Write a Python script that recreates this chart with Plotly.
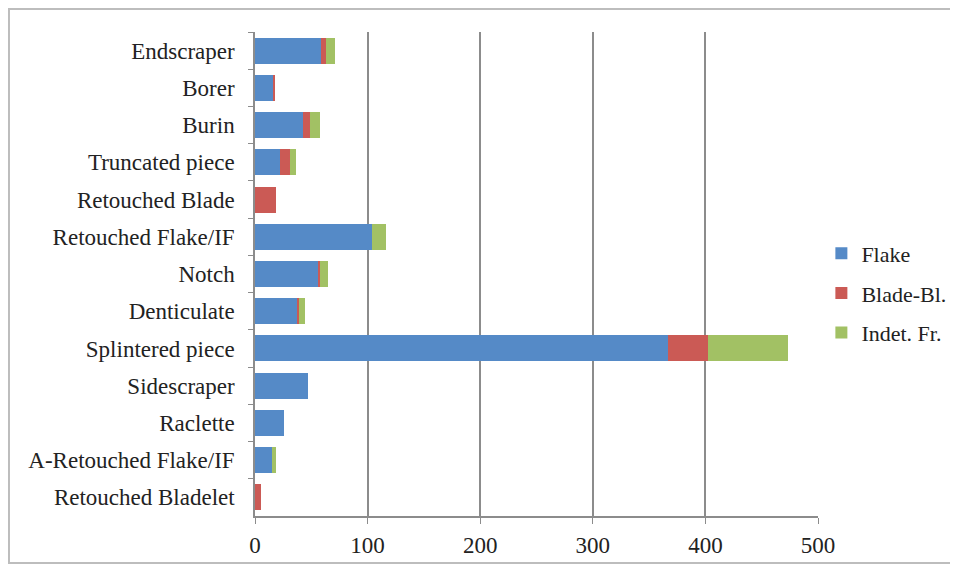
import plotly.graph_objects as go

categories = ["Endscraper", "Borer", "Burin", "Truncated piece", "Retouched Blade",
              "Retouched Flake/IF", "Notch", "Denticulate", "Splintered piece",
              "Sidescraper", "Raclette", "A-Retouched Flake/IF", "Retouched Bladelet"]
flake = [59, 16, 43, 22, 0, 104, 56, 38, 367, 47, 26, 15, 0]
blade_bl = [4, 1, 6, 9, 19, 0, 2, 1, 35, 0, 0, 0, 5]
indet_fr = [8, 0, 9, 5, 0, 12, 7, 5, 71, 0, 0, 4, 0]
x_ticks = [0, 100, 200, 300, 400, 500]

series = [("Flake", flake, "#558AC7"), ("Blade-Bl.", blade_bl, "#CB5A55"),
          ("Indet. Fr.", indet_fr, "#A2C164")]

fig = go.Figure()
for name, vals, col in series:
    fig.add_trace(go.Bar(y=categories, x=vals, name=name, orientation="h",
                         legendgroup=name,
                         marker=dict(color=col, line=dict(width=0))))

FAM = "Liberation Serif"
font = dict(family=FAM, size=23, color="#222")
fig.update_layout(
    width=950, height=561, barmode="stack", bargap=0.3,
    paper_bgcolor="white", plot_bgcolor="white", font=font,
    margin=dict(l=247, r=140, t=24, b=53, autoexpand=False),
    legend=dict(x=1.006, y=0.4607, xanchor="left", yanchor="middle",
                font=dict(family=FAM, size=22, color="#222"), traceorder="grouped",
                tracegroupgap=8, itemwidth=30, bgcolor="rgba(0,0,0,0)"),
    showlegend=True,
)
fig.update_xaxes(range=[0, 500], tickvals=x_ticks, showgrid=True, gridcolor="#8c8c8c",
                 gridwidth=1.5, showline=True, linecolor="#8c8c8c", linewidth=1.5,
                 ticks="outside", ticklen=6, tickcolor="#8c8c8c", zeroline=False,
                 ticklabelstandoff=2, automargin=False)
fig.update_yaxes(autorange="reversed", showline=True, linecolor="#8c8c8c", linewidth=1.5,
                 ticks="outside", ticklen=5, tickcolor="#8c8c8c", tickson="boundaries",
                 showgrid=False, ticklabelstandoff=14, automargin=False)

fig.add_shape(type="rect", xref="paper", yref="paper", x0=-0.437, x1=1.5,
              y0=-0.0971, y1=1.0475, line=dict(color="#bdbdbd", width=2), layer="below")

fig.write_html("out.html")
